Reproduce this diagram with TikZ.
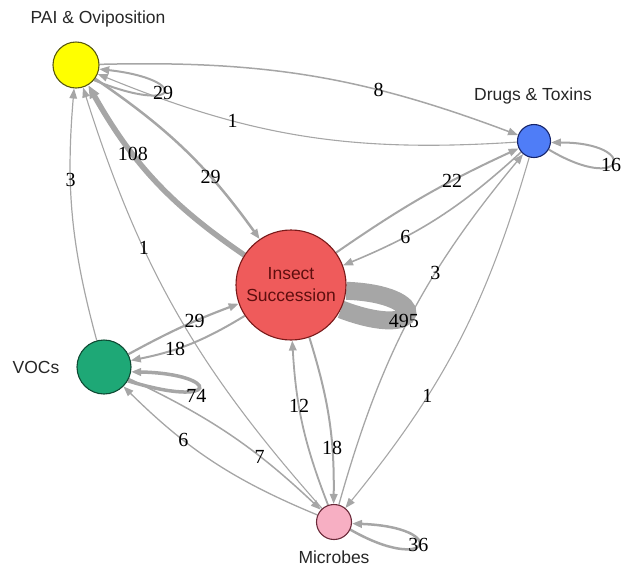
\documentclass[tikz,border=0pt]{standalone}
\usepackage{fontspec}
\setmainfont{Liberation Serif}
\newfontfamily\sansf{Liberation Sans}
\usetikzlibrary{arrows.meta}
\pgfdeclarelayer{background}
\pgfsetlayers{background,main}
\definecolor{edgec}{HTML}{A6A6A6}
\definecolor{paiF}{HTML}{FFFF00}\definecolor{paiD}{HTML}{5A5A10}
\definecolor{drgF}{HTML}{4F7DF7}\definecolor{drgD}{HTML}{16246A}
\definecolor{insF}{HTML}{EF5B5B}\definecolor{insD}{HTML}{7A1A1A}
\definecolor{vocF}{HTML}{1EA876}\definecolor{vocD}{HTML}{0E4A33}
\definecolor{micF}{HTML}{F7AFC3}\definecolor{micD}{HTML}{6B2A3A}
\definecolor{instext}{HTML}{5E0E0E}
\begin{document}
\begin{tikzpicture}[x=1pt,y=1pt,
  vert/.style={circle, line width=1.1pt, inner sep=0pt},
  lbl/.style={font=\fontsize{20}{20}\selectfont, inner sep=0pt, text=black},
  nlab/.style={font=\sansf\fontsize{17.5}{20}\selectfont, text=black!85, inner sep=0pt},
  e/.style={draw=edgec, -{Triangle[length=10pt,width=7.5pt]}, line width=#1},
  ebig/.style={draw=edgec, -{Triangle[length=13pt,width=10pt]}, line width=#1},
]
\useasboundingbox (0,0) rectangle (624,-566);

% vertices
\node[vert, fill=paiF, draw=paiD, minimum size=46pt] (P) at (76,-65) {};
\node[vert, fill=drgF, draw=drgD, minimum size=33pt] (D) at (534,-141) {};
\node[vert, fill=insF, draw=insD, minimum size=110pt, align=center,
      font=\sansf\fontsize{17.5}{22}\selectfont, text=instext] (I) at (291,-285) {Insect\\Succession};
\node[vert, fill=vocF, draw=vocD, minimum size=54pt] (V) at (104,-367) {};
\node[vert, fill=micF, draw=micD, minimum size=35pt] (M) at (334,-522) {};

% vertex labels
\node[nlab] (tP) at (98,-19) {PAI \& Oviposition};
\node[nlab] (tD) at (533,-96) {Drugs \& Toxins};
\node[nlab] (tV) at (36,-367) {VOCs};
\node[nlab] (tM) at (334,-557) {Microbes};

\begin{pgfonlayer}{background}
% PAI <-> Drugs
\draw[e=1.5pt] (P) to[bend left=11] node[lbl,pos=0.67] (l8) {8} (D);
\draw[e=1.1pt] (D) to[bend left=13] node[lbl,pos=0.68] (l1a) {1} (P);
% PAI <-> Insect
\draw[ebig=5.5pt] (I) to[bend left=13] node[lbl,pos=0.66] (l108) {108} (P);
\draw[e=2.5pt] (P) to[bend left=10] node[lbl,pos=0.67] (l29a) {29} (I);
% VOCs -> PAI, Microbes -> PAI
\draw[e=1.2pt] (V) to[bend left=10] node[lbl,pos=0.65] (l3a) {3} (P);
\draw[e=1.1pt] (M) to[bend left=12] node[lbl,pos=0.66] (l1b) {1} (P);
% Insect <-> Drugs
\draw[e=2pt] (I) to[bend left=5] node[lbl,pos=0.66] (l22) {22} (D);
\draw[e=1.6pt] (D) to[bend left=10] node[lbl,pos=0.69] (l6a) {6} (I);
% Microbes <-> Drugs
\draw[e=1.3pt] (M) to[bend left=12] node[lbl,pos=0.64] (l3b) {3} (D);
\draw[e=1.1pt] (D) to[bend left=11.5] node[lbl,pos=0.665] (l1c) {1} (M);
% VOCs <-> Insect
\draw[e=2.2pt] (V) to[bend left=4] node[lbl,pos=0.62] (l29b) {29} (I);
\draw[e=2pt] (I) to[bend left=10] node[lbl,pos=0.64] (l18a) {18} (V);
% Microbes <-> Insect
\draw[e=1.8pt] (M) to[bend left=9] node[lbl,pos=0.62] (l12) {12} (I);
\draw[e=2pt] (I) to[bend left=9] node[lbl,pos=0.68] (l18b) {18} (M);
% Microbes <-> VOCs
\draw[e=1.3pt] (M) to[bend left=11] node[lbl,pos=0.67] (l6b) {6} (V);
\draw[e=1.5pt] (V) to[bend left=9] node[lbl,pos=0.665] (l7) {7} (M);
% self loops
\draw[e=2pt] (P.-40) .. controls +(88,-36) and +(91,-10) .. node[lbl,pos=0.47] (l29c) {29} (P.-10);
\draw[e=2pt] (D.-30) .. controls +(77,-46) and +(90,0) .. node[lbl,pos=0.45] (l16) {16} (D.-5);
\draw[e=3.5pt] (V.-30) .. controls +(93,-29) and +(91,-2) .. node[lbl,pos=0.42,yshift=-6pt] (l74) {74} (V.-10);
\draw[e=2.5pt] (M.-25) .. controls +(80,-46) and +(99,-3.5) .. node[lbl,pos=0.5] (l36) {36} (M.-5);
\draw[draw=edgec, line width=18pt] (I.-26) .. controls +(84,-32) and +(86,-3) .. node[lbl,pos=0.4,yshift=-3pt] (l495) {495} (I.-6);
\end{pgfonlayer}
\end{tikzpicture}
\end{document}
